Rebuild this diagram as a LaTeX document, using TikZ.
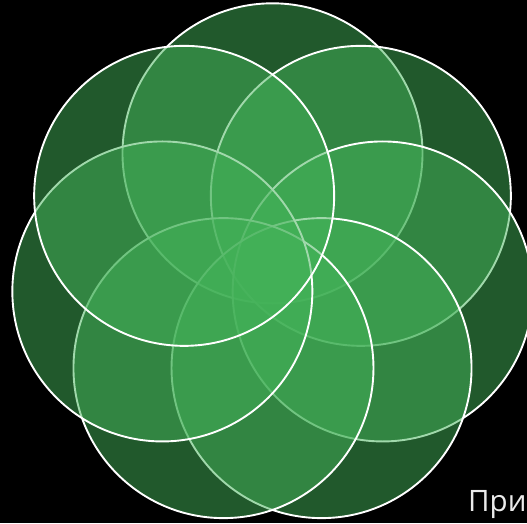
\documentclass[tikz,border=0pt]{standalone}
\usepackage{fontspec}
\newfontfamily\capfont{Open Sans}
\definecolor{petalgreen}{RGB}{67,178,88}
\begin{document}
\begin{tikzpicture}[x=1pt,y=-1pt,
  petal/.style={circle, minimum size=300pt, inner sep=0pt, fill=petalgreen, fill opacity=0.5, draw=white, draw opacity=1, line width=1.9pt}]
\fill[black] (0,0) rectangle (527,523);
\useasboundingbox (0,0) rectangle (527,523);
\clip (0,0) rectangle (527,523);
\foreach \k in {0,6,5,4,3,2,1} {
  \node[petal] (c\k) at ({272.5+113*cos(90+\k*360/7)}, {266.3-113*sin(90+\k*360/7)}) {};
}
\node[anchor=base west, text=white!92!black, font=\capfont\fontsize{29.5}{35}\selectfont, inner sep=0pt] (lbl) at (468,511.5) {При};
\end{tikzpicture}
\end{document}
